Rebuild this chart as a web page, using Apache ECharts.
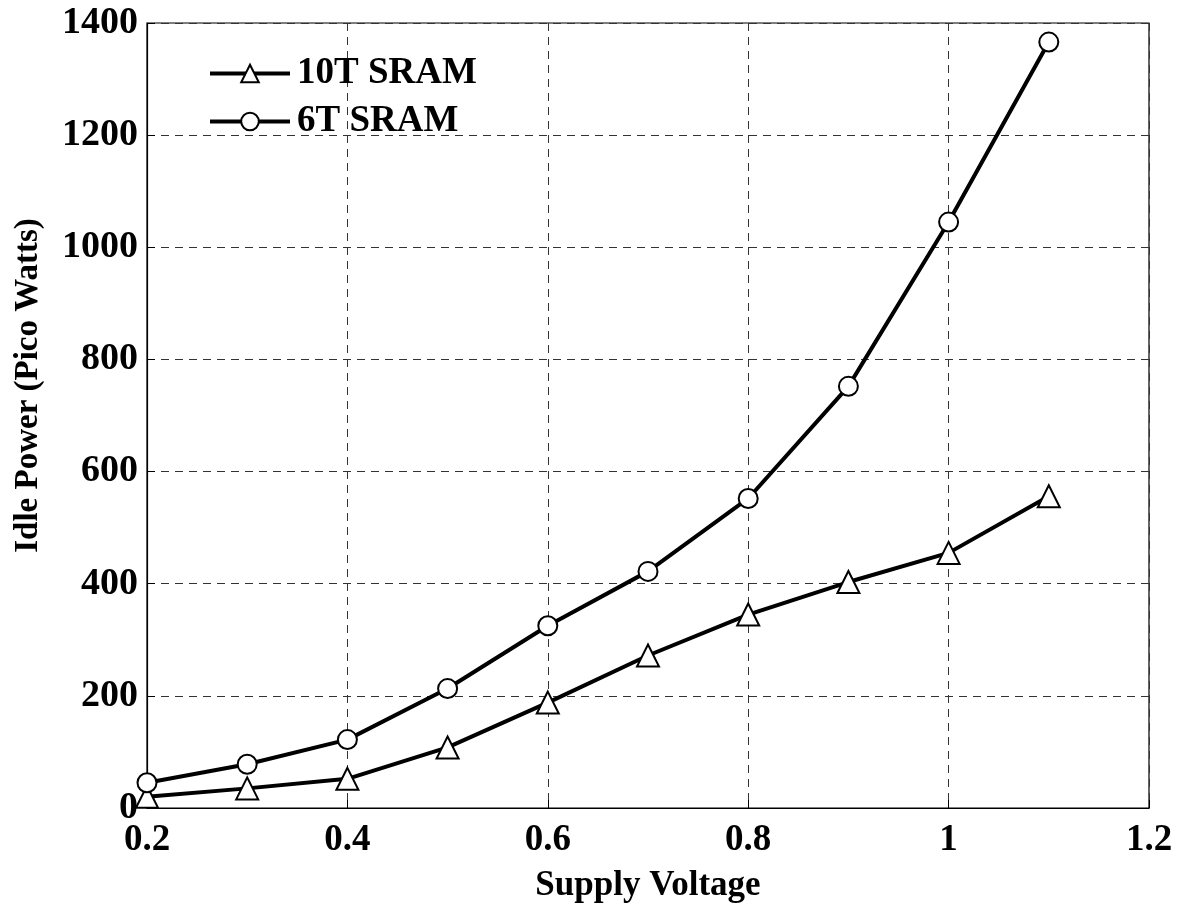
<!DOCTYPE html>
<html>
<head>
<meta charset="utf-8">
<script src="https://cdn.jsdelivr.net/npm/echarts@6/dist/echarts.min.js"></script>
<style>
  html, body { margin: 0; padding: 0; background: #fff; }
  #chart { width: 1186px; height: 904px; }
</style>
</head>
<body>
<div id="chart"></div>
<script>
// Supply voltage sweep (V)
const voltages = [0.2, 0.3, 0.4, 0.5, 0.6, 0.7, 0.8, 0.9, 1.0, 1.1];
// Idle power in picowatts
const sram10T = [20, 35, 52, 108, 188, 272, 345, 403, 455, 556];
const sram6T = [45, 78, 122, 213, 325, 422, 552, 752, 1045, 1366];
const seriesNames = ['10T SRAM', '6T SRAM'];

const FONT = '"Liberation Serif", "Times New Roman", serif';

const pairs = (ys) => voltages.map((v, i) => [v, ys[i]]);

const chart = echarts.init(document.getElementById('chart'), null, { renderer: 'canvas' });

const gridLine = { show: true, lineStyle: { color: '#333', width: 1, type: [8, 6] } };

chart.setOption({
  animation: false,
  backgroundColor: '#fff',
  grid: {
    left: 147, right: 37, top: 23, bottom: 96,
    outerBoundsMode: 'none',
    containLabel: false,
    show: true, borderColor: '#000', borderWidth: 1.2, backgroundColor: 'transparent'
  },
  legend: {
    orient: 'vertical',
    left: 203, top: 50,
    itemWidth: 80, itemHeight: 22, itemGap: 11,
    lineStyle: { width: 4 },
    textStyle: { fontFamily: FONT, fontWeight: 'bold', fontSize: 37, color: '#000', padding: [0, 0, 0, 2] },
    data: seriesNames
  },
  xAxis: {
    type: 'value',
    min: 0.2, max: 1.2, interval: 0.2,
    name: 'Supply Voltage',
    nameLocation: 'middle', nameGap: 60,
    nameTextStyle: { fontFamily: FONT, fontWeight: 'bold', fontSize: 35, color: '#000' },
    axisLine: { show: true, lineStyle: { color: '#000', width: 1.2 } },
    axisTick: { show: true, inside: true, length: 8, lineStyle: { color: '#000' } },
    axisLabel: {
      fontFamily: FONT, fontWeight: 'bold', fontSize: 37, color: '#000', margin: 14,
      formatter: (v) => String(+v.toFixed(1))
    },
    splitLine: gridLine
  },
  yAxis: {
    type: 'value',
    min: 0, max: 1400, interval: 200,
    name: 'Idle Power (Pico Watts)',
    nameLocation: 'middle', nameGap: 102, nameRotate: 90,
    nameTextStyle: { fontFamily: FONT, fontWeight: 'bold', fontSize: 33, color: '#000', padding: [0, 0, 0, 60] },
    axisLine: { show: true, lineStyle: { color: '#000', width: 1.2 } },
    axisTick: { show: true, inside: true, length: 8, lineStyle: { color: '#000' } },
    axisLabel: {
      fontFamily: FONT, fontWeight: 'bold', fontSize: 38, color: '#000', margin: 9,
      formatter: (v) => String(v)
    },
    splitLine: gridLine
  },
  series: [
    {
      name: seriesNames[0],
      type: 'line',
      data: pairs(sram10T),
      symbol: 'emptyTriangle',
      symbolSize: 22,
      showAllSymbol: true,
      lineStyle: { color: '#000', width: 4 },
      itemStyle: { color: '#000', borderColor: '#000', borderWidth: 3.5 },
      z: 3
    },
    {
      name: seriesNames[1],
      type: 'line',
      data: pairs(sram6T),
      symbol: 'emptyCircle',
      symbolSize: 19,
      showAllSymbol: true,
      lineStyle: { color: '#000', width: 4 },
      itemStyle: { color: '#000', borderColor: '#000', borderWidth: 3.5 },
      z: 3
    }
  ]
});
</script>
</body>
</html>
